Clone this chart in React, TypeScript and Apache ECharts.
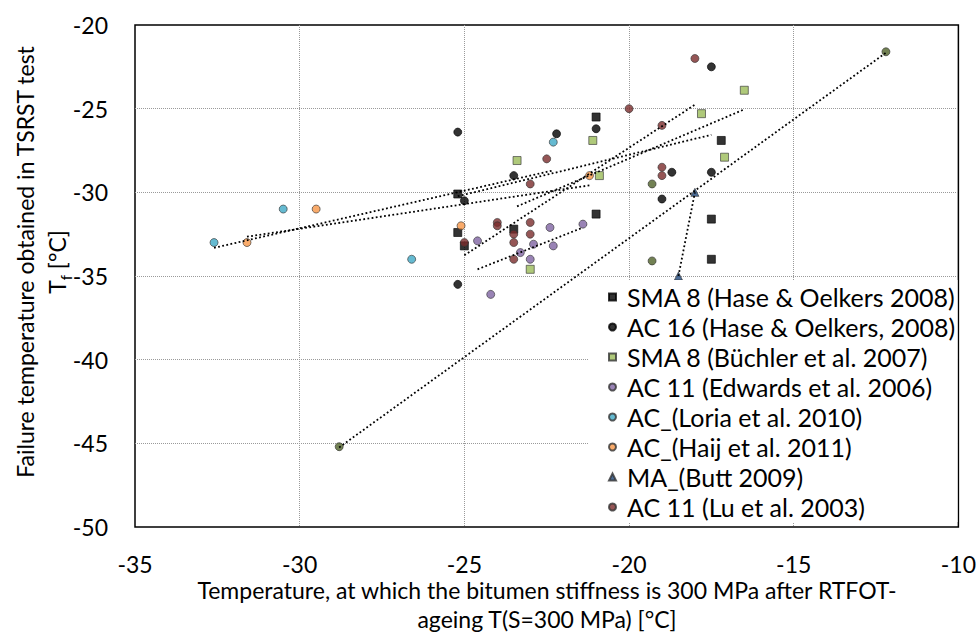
import React, { useEffect, useRef } from "react";
import * as echarts from "echarts";

// ---- data ----
const seriesNames = [
  "SMA 8 (Hase & Oelkers 2008)",
  "AC 16 (Hase & Oelkers, 2008)",
  "SMA 8 (Büchler et al. 2007)",
  "AC 11 (Edwards et al. 2006)",
  "AC_(Loria et al. 2010)",
  "AC_(Haij et al. 2011)",
  "MA_(Butt 2009)",
  "AC 11 (Lu et al. 2003)",
];
const otherName = "AC (unlabelled)";

const smaHaseX = [-25.2, -25.2, -25.0, -23.5, -21.0, -21.0, -17.2, -17.5, -17.5];
const smaHaseY = [-30.1, -32.4, -33.2, -32.2, -25.5, -31.3, -26.9, -31.6, -34.0];
const ac16X = [-25.2, -23.5, -25.0, -25.2, -22.2, -21.0, -17.5, -18.7, -17.5, -19.0];
const ac16Y = [-26.4, -29.0, -30.5, -35.5, -26.5, -26.2, -22.5, -28.8, -28.8, -30.4];
const buchX = [-23.4, -23.0, -21.1, -20.9, -17.8, -17.1, -16.5];
const buchY = [-28.1, -34.6, -26.9, -29.0, -25.3, -27.9, -23.9];
const edwX = [-24.6, -24.2, -23.3, -22.9, -23.0, -22.4, -22.3, -21.4];
const edwY = [-32.9, -36.1, -33.6, -33.1, -34.0, -32.1, -33.2, -31.9];
const loriaX = [-32.6, -30.5, -26.6, -22.3];
const loriaY = [-33.0, -31.0, -34.0, -27.0];
const haijX = [-31.6, -29.5, -25.1, -21.2];
const haijY = [-33.0, -31.0, -32.0, -29.0];
const buttX = [-18.5, -18.0];
const buttY = [-35.0, -30.0];
const luX = [-18.0, -20.0, -19.0, -22.5, -23.0, -19.0, -19.0, -25.0, -24.0, -24.0, -23.5, -23.5, -23.0, -23.0, -23.5];
const luY = [-22.0, -25.0, -26.0, -28.0, -29.5, -28.5, -29.0, -33.0, -31.8, -32.0, -32.5, -33.0, -31.8, -32.5, -34.0];
const otherX = [-28.8, -19.3, -19.3, -12.2];
const otherY = [-45.2, -29.5, -34.1, -21.6];

const xMin = -35, xMax = -10, xStep = 5;
const yMin = -50, yMax = -20, yStep = 5;

const FONT = "Lato";

function pairs(xs: number[], ys: number[]) {
  return xs.map((x, i) => [x, ys[i]]);
}

// linear least-squares trendline spanning the series' x range
function trend(xs: number[], ys: number[]) {
  const n = xs.length;
  const mx = xs.reduce((a, b) => a + b, 0) / n;
  const my = ys.reduce((a, b) => a + b, 0) / n;
  let sxy = 0, sxx = 0;
  for (let i = 0; i < n; i++) {
    sxy += (xs[i] - mx) * (ys[i] - my);
    sxx += (xs[i] - mx) * (xs[i] - mx);
  }
  const b = sxy / sxx;
  const a = my - b * mx;
  const lo = Math.min(...xs), hi = Math.max(...xs);
  return [[lo, a + b * lo], [hi, a + b * hi]];
}

export default function App() {
  const ref = useRef<HTMLDivElement>(null);
  useEffect(() => {
    document.body.style.margin = "0";
    if (!ref.current) return;
    const chart = echarts.init(ref.current, null, { renderer: "svg" });

    const scatter = (name: string, xs: number[], ys: number[], symbol: string, color: string, size: number, border: string) => ({
      name,
      type: "scatter",
      data: pairs(xs, ys),
      symbol,
      symbolSize: size,
      itemStyle: { color, borderColor: border, borderWidth: 0.8 },
      z: 3,
    });
    const tline = (xs: number[], ys: number[]) => ({
      type: "line",
      data: trend(xs, ys),
      symbol: "none",
      silent: true,
      lineStyle: { color: "#000", width: 1.8, type: [1.8, 2.4] },
      z: 5,
    });

    chart.setOption({
      animation: false,
      backgroundColor: "#fff",
      textStyle: { fontFamily: FONT },
      grid: {
        left: 135, right: 19, top: 25, bottom: 112,
        show: true, borderColor: "#000", borderWidth: 1.5, backgroundColor: "transparent",
      },
      xAxis: {
        type: "value", min: xMin, max: xMax, interval: xStep,
        axisLine: { show: false }, axisTick: { show: false },
        axisLabel: { color: "#000", fontSize: 23, fontFamily: FONT, margin: 25 },
        splitLine: { show: true, showMinLine: false, showMaxLine: false, lineStyle: { color: "#9a9a9a", width: 1, type: [1, 1] } },
      },
      yAxis: {
        type: "value", min: yMin, max: yMax, interval: yStep,
        axisLine: { show: false }, axisTick: { show: false },
        axisLabel: { color: "#000", fontSize: 23, fontFamily: FONT, margin: 27 },
        splitLine: { show: true, showMinLine: false, showMaxLine: false, lineStyle: { color: "#9a9a9a", width: 1, type: [1, 1] } },
      },
      legend: {
        data: seriesNames,
        orient: "vertical",
        left: 588, top: 280,
        padding: [2, 2, 0, 20],
        itemGap: 0,
        itemWidth: 7, itemHeight: 7,
        backgroundColor: "#fff",
        textStyle: { fontFamily: FONT, fontSize: 25, color: "#000", lineHeight: 30, padding: [0, 0, 0, 6] },
      },
      graphic: [
        {
          type: "text", x: 41, y: 262, rotation: Math.PI / 2,
          style: {
            text: "Failure temperature obtained in TSRST test\n{n|T}{s|f}{n| [°C]}",
            fontFamily: FONT, fontSize: 23, fill: "#000", align: "center", verticalAlign: "middle", lineHeight: 32,
            rich: {
              n: { fontFamily: FONT, fontSize: 23, fill: "#000", lineHeight: 32 },
              s: { fontFamily: FONT, fontSize: 15, fill: "#000", verticalAlign: "bottom", lineHeight: 26 },
            },
          },
        },
        {
          type: "text", x: 547, y: 604,
          style: {
            text: "Temperature, at which the bitumen stiffness is 300 MPa after RTFOT-\nageing T(S=300 MPa) [°C]",
            fontFamily: FONT, fontSize: 23, fill: "#000", align: "center", verticalAlign: "middle", lineHeight: 29,
          },
        },
      ],
      series: [
        scatter(otherName, otherX, otherY, "circle", "#4F6228", 8, "#333"),
        scatter(seriesNames[0], smaHaseX, smaHaseY, "rect", "#000", 8, "#000"),
        scatter(seriesNames[1], ac16X, ac16Y, "circle", "#000", 8, "#000"),
        scatter(seriesNames[2], buchX, buchY, "rect", "#9BBB59", 8, "#333"),
        scatter(seriesNames[3], edwX, edwY, "circle", "#8064A2", 8, "#333"),
        scatter(seriesNames[4], loriaX, loriaY, "circle", "#3FA9C5", 8, "#333"),
        scatter(seriesNames[5], haijX, haijY, "circle", "#F79646", 8, "#333"),
        scatter(seriesNames[6], buttX, buttY, "triangle", "#1F497D", 8, "#333"),
        scatter(seriesNames[7], luX, luY, "circle", "#7B2C2C", 8, "#333"),
        tline(ac16X, ac16Y),
        tline(buchX, buchY),
        tline(edwX, edwY),
        tline(loriaX, loriaY),
        tline(haijX, haijY),
        tline(buttX, buttY),
        tline(luX, luY),
        tline(otherX, otherY),
      ],
    });
    return () => chart.dispose();
  }, []);
  return <div ref={ref} style={{ width: 979, height: 639 }} />;
}
